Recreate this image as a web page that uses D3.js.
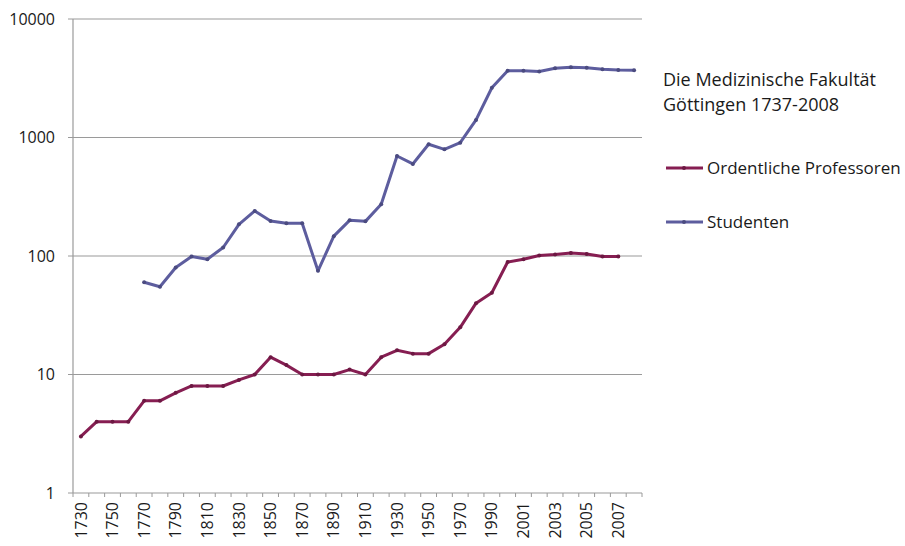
<!DOCTYPE html>
<html>
<head>
<meta charset="utf-8">
<script src="https://cdn.jsdelivr.net/npm/d3@7"></script>
<style>
  body { margin: 0; background: #fff; }
  svg { font-family: "Open Sans", "Liberation Sans", sans-serif; }
</style>
</head>
<body>
<svg width="905" height="546"></svg>
<script>
// years on the category axis (Excel-style line chart, not a time axis)
const years = ['1730','1740','1750','1760','1770','1780','1790','1800','1810','1820',
  '1830','1840','1850','1860','1870','1880','1890','1900','1910','1920','1930','1940',
  '1950','1960','1970','1980','1990','2000','2001','2002','2003','2004','2005','2006',
  '2007','2008'];

const professoren = [3,4,4,4,6,6,7,8,8,8,9,10,14,12,10,10,10,11,10,14,16,15,15,18,25,40,49,
  89,94,101,103,106,104,99,99,null];

const studenten = [null,null,null,null,60,55,80,99,94,118,185,240,197,189,189,75,147,200,196,
  273,698,598,877,795,904,1406,2630,3660,3660,3610,3840,3910,3880,3760,3710,3690];

const yTicks = [1, 10, 100, 1000, 10000];

const titleLines = ['Die Medizinische Fakultät', 'Göttingen 1737-2008'];
const seriesNames = ['Ordentliche Professoren', 'Studenten'];
const seriesColors = ['#861e52', '#5d5d9e'];

const svg = d3.select('svg');

const x = d3.scaleBand()
  .domain(years)
  .range([73, 642])
  .padding(0);

const y = d3.scaleLog()
  .domain([1, 10000])
  .range([493, 19]);

const cx = d => x(d) + x.bandwidth() / 2;

// gridlines
svg.append('g')
  .selectAll('line')
  .data(yTicks.slice(1))
  .join('line')
    .attr('x1', 73)
    .attr('x2', 642)
    .attr('y1', d => y(d))
    .attr('y2', d => y(d))
    .attr('stroke', '#9a9a9a')
    .attr('stroke-width', 1.2);

// y axis
const yAxis = svg.append('g');
yAxis.append('line')
  .attr('x1', 73).attr('x2', 73)
  .attr('y1', y(10000)).attr('y2', y(1))
  .attr('stroke', '#9a9a9a')
  .attr('stroke-width', 1.2);
yAxis.selectAll('.tick')
  .data(yTicks)
  .join('line')
    .attr('x1', 68).attr('x2', 73)
    .attr('y1', d => y(d)).attr('y2', d => y(d))
    .attr('stroke', '#9a9a9a');
yAxis.selectAll('text')
  .data(yTicks)
  .join('text')
    .attr('x', 55)
    .attr('y', d => y(d))
    .attr('dy', '0.35em')
    .attr('text-anchor', 'end')
    .attr('font-size', 16)
    .attr('fill', '#1a1a1a')
    .text(d => d);

// x axis
const xAxis = svg.append('g');
xAxis.append('line')
  .attr('x1', 73).attr('x2', 642)
  .attr('y1', y(1)).attr('y2', y(1))
  .attr('stroke', '#9a9a9a')
  .attr('stroke-width', 1.2);
xAxis.selectAll('.tick')
  .data(years.concat(['end']))
  .join('line')
    .attr('x1', (d, i) => 73 + i * x.bandwidth())
    .attr('x2', (d, i) => 73 + i * x.bandwidth())
    .attr('y1', y(1)).attr('y2', y(1) + 4)
    .attr('stroke', '#9a9a9a');
xAxis.selectAll('text')
  .data(years.filter((d, i) => i % 2 === 0))
  .join('text')
    .attr('transform', d => `translate(${cx(d)}, ${y(1) + 9}) rotate(-90)`)
    .attr('dy', '0.35em')
    .attr('text-anchor', 'end')
    .attr('font-size', 16)
    .attr('fill', '#1a1a1a')
    .text(d => d);

// lines
const line = d3.line()
  .defined(d => d.v != null)
  .x(d => cx(d.year))
  .y(d => y(d.v));

[professoren, studenten].forEach((vals, k) => {
  const pts = years.map((yr, i) => ({year: yr, v: vals[i]}));
  svg.append('path')
    .datum(pts)
    .attr('fill', 'none')
    .attr('stroke', seriesColors[k])
    .attr('stroke-width', 3)
    .attr('stroke-linejoin', 'round')
    .attr('d', line);
  svg.append('g')
    .selectAll('circle')
    .data(pts.filter(d => d.v != null))
    .join('circle')
      .attr('cx', d => cx(d.year))
      .attr('cy', d => y(d.v))
      .attr('r', 2)
      .attr('fill', d3.color(seriesColors[k]).darker(0.6));
});

// title (two lines) + legend
svg.append('g')
  .selectAll('text')
  .data(titleLines)
  .join('text')
    .attr('x', 663)
    .attr('y', (d, i) => 86 + i * 25)
    .attr('font-size', 18)
    .attr('fill', '#1a1a1a')
    .text(d => d);

const legend = svg.append('g')
  .selectAll('g')
  .data(seriesNames)
  .join('g')
    .attr('transform', (d, i) => `translate(666, ${168 + i * 54})`);
legend.append('line')
  .attr('x1', 0).attr('x2', 37)
  .attr('stroke', (d, i) => seriesColors[i])
  .attr('stroke-width', 3);
legend.append('circle')
  .attr('cx', 18).attr('r', 2)
  .attr('fill', (d, i) => d3.color(seriesColors[i]).darker(0.6));
legend.append('text')
  .attr('x', 41)
  .attr('dy', '0.35em')
  .attr('font-size', 17)
  .attr('fill', '#1a1a1a')
  .text(d => d);
</script>
</body>
</html>
